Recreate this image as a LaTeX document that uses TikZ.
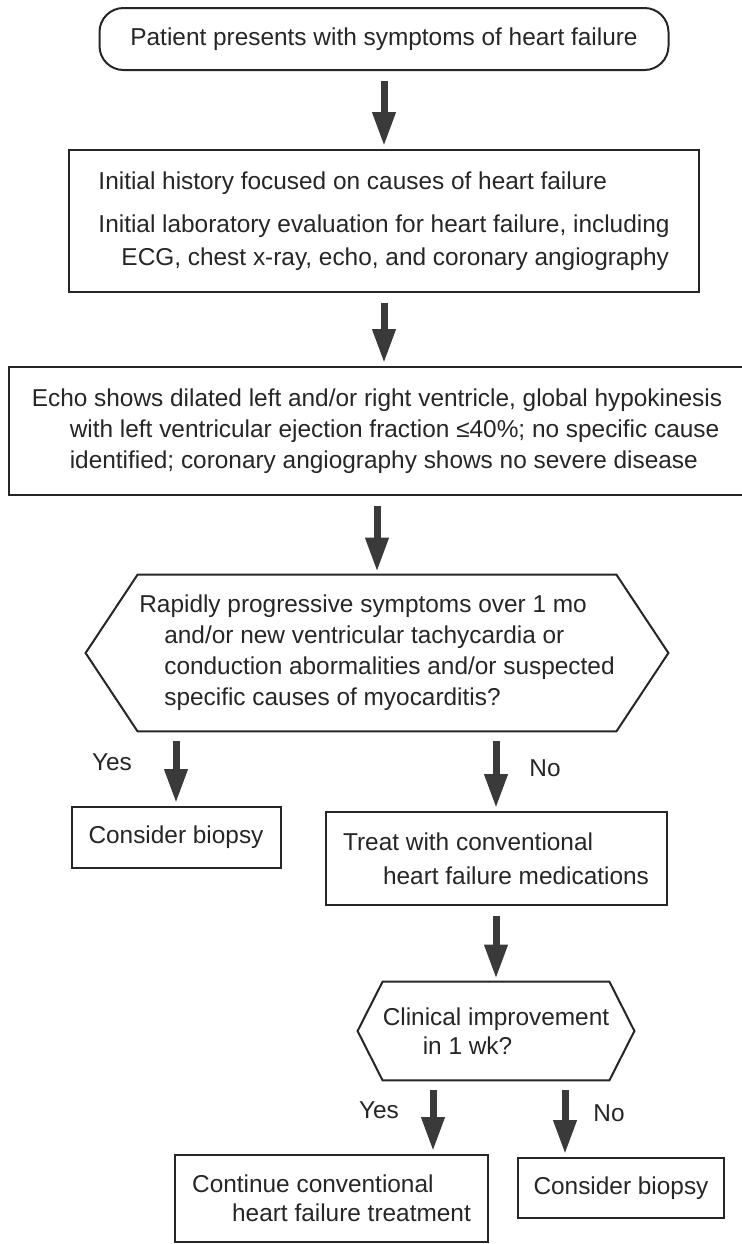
\documentclass[tikz,border=0pt]{standalone}
\usepackage{fontspec}
\setmainfont{Liberation Sans}
\usetikzlibrary{arrows.meta}
\definecolor{ink}{HTML}{262626}
\definecolor{arrowgray}{HTML}{3A3A3A}

\begin{document}
\begin{tikzpicture}[x=0.5pt, y=-0.5pt,
	box/.style={draw=ink, line width=1pt, text=ink, align=left, inner sep=0pt,
		font=\fontsize{12.2}{15.5}\selectfont},
	plain/.style={text=ink, align=left, inner sep=0pt,
		font=\fontsize{12.2}{15.5}\selectfont},
	hexline/.style={draw=ink, line width=1pt, line join=miter},
	flow/.style={draw=arrowgray, line width=3.5pt,
		-{Triangle[width=11pt,length=17pt]}, shorten <=5pt, shorten >=1.5pt}]
	\useasboundingbox[fill=white] (0,0) rectangle (742,1244);

	\node[box, rounded corners=12pt, minimum width=284.5pt, minimum height=31pt] (start) at (384, 39)
		{Patient presents with symptoms of heart failure};
	\node[box, minimum width=315pt, minimum height=71pt,
		font=\fontsize{12.2}{16.5}\selectfont] (history) at (384, 221)
		{Initial history focused on causes of heart failure\\[5pt]
		Initial laboratory evaluation for heart failure, including\\
		\hspace*{11.5pt}ECG, chest x-ray, echo, and coronary angiography};
	\node[box, minimum width=368pt, minimum height=64pt] (echo) at (377, 431)
		{Echo shows dilated left and/or right ventricle, global hypokinesis\\
		\hspace*{19pt}with left ventricular ejection fraction ≤40\%; no specific cause\\
		\hspace*{19pt}identified; coronary angiography shows no severe disease};
	\node[plain, minimum width=291pt, minimum height=78pt] (rapid) at (377, 653)
		{Rapidly progressive symptoms over 1 mo\\
		\hspace*{12.5pt}and/or new ventricular tachycardia or\\
		\hspace*{12.5pt}conduction abormalities and/or suspected\\
		\hspace*{12.5pt}specific causes of myocarditis?};
	\node[box, minimum width=104.5pt, minimum height=30.5pt] (biopsy1) at (176, 837.5)
		{Consider biopsy};
	\node[box, minimum width=170.5pt, minimum height=46.5pt,
		font=\fontsize{12.2}{17}\selectfont] (treat) at (496, 858.5)
		{Treat with conventional\\
		\hspace*{20pt}heart failure medications};
	\node[plain, minimum width=138pt, minimum height=49pt,
		font=\fontsize{12.2}{14.5}\selectfont] (improve) at (496, 1031)
		{Clinical improvement\\
		\hspace*{20pt}in 1 wk?};
	\node[box, minimum width=156.5pt, minimum height=43.5pt,
		font=\fontsize{12.2}{14.5}\selectfont] (continue1) at (331.5, 1198.5)
		{Continue conventional\\
		\hspace*{20pt}heart failure treatment};
	\node[box, minimum width=103pt, minimum height=30pt] (biopsy2) at (621, 1188)
		{Consider biopsy};

	\node[plain] (yes1) at (112, 762) {Yes};
	\node[plain] (no1) at (545, 768) {No};
	\node[plain] (yes2) at (379, 1110) {Yes};
	\node[plain] (no2) at (609, 1113) {No};

	\draw[hexline] (rapid.west) -- ([xshift=26pt]rapid.north west) -- ([xshift=-26pt]rapid.north east)
		-- (rapid.east) -- ([xshift=-26pt]rapid.south east) -- ([xshift=26pt]rapid.south west) -- cycle;
	\draw[hexline] (improve.west) -- ([xshift=12.5pt]improve.north west) -- ([xshift=-12.5pt]improve.north east)
		-- (improve.east) -- ([xshift=-12.5pt]improve.south east) -- ([xshift=12.5pt]improve.south west) -- cycle;

	\coordinate (yes2top) at ([xshift=-31.5pt]improve.south);
	\coordinate (no2top) at ([xshift=34.5pt]improve.south);

	\draw[flow] (start) -- (history);
	\draw[flow] (history.south) -- (history.south |- echo.north);
	\draw[flow] (echo) -- (rapid);
	\draw[flow] (rapid.south -| biopsy1.north) -- (biopsy1.north);
	\draw[flow] (rapid.south -| treat.north) -- (treat.north);
	\draw[flow] (treat) -- (improve);
	\draw[flow] (yes2top) -- (yes2top |- continue1.north);
	\draw[flow] (no2top) -- (no2top |- biopsy2.north);
\end{tikzpicture}
\end{document}
